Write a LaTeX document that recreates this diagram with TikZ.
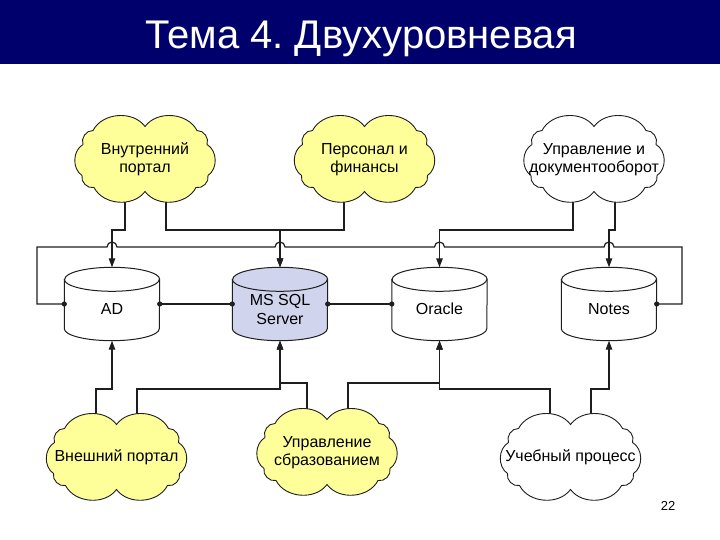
\documentclass[tikz,border=0pt]{standalone}
\usepackage{fontspec}
\setmainfont{Liberation Sans}
\usetikzlibrary{arrows.meta,calc}
\definecolor{titlebg}{RGB}{0,0,108}
\definecolor{cloudyel}{RGB}{255,255,153}
\definecolor{dbfill}{RGB}{208,212,236}
\definecolor{linec}{RGB}{30,30,30}
\pgfdeclarelayer{bg}
\pgfdeclarelayer{shapes}
\pgfsetlayers{bg,shapes,main}
\tikzset{
  cloudbox/.style={rectangle, minimum width=140pt, minimum height=84pt, inner sep=0pt,
    font=\fontsize{16}{18}\selectfont, align=center},
  cloudline/.style={draw=linec, line width=0.9pt},
  lobe/.style={bend left=58},
  dbbox/.style={rectangle, minimum width=95pt, minimum height=73pt, inner sep=0pt},
  dbtext/.style={font=\fontsize{16}{19}\selectfont, align=center, inner sep=0pt, yshift=-5pt},
  dbline/.style={draw=linec, line width=1pt},
  conn/.style={draw=linec, line width=1.2pt},
  arr/.style={conn, -{Triangle[length=9pt,width=6.5pt]}},
  dot/.style={fill=linec}
}
\newcommand\cloudshape[2]{%
  \filldraw[cloudline,fill=#2] ($(#1)+(0,-33)$)
    to[lobe] ($(#1)+(52,-29)$)
    to[lobe] ($(#1)+(62,-15)$)
    to[lobe] ($(#1)+(63,16)$)
    to[lobe] ($(#1)+(51,28)$)
    to[lobe] ($(#1)+(0,32)$)
    to[lobe] ($(#1)+(-51,28)$)
    to[lobe] ($(#1)+(-63,16)$)
    to[lobe] ($(#1)+(-62,-15)$)
    to[lobe] ($(#1)+(-52,-29)$)
    to[lobe] ($(#1)+(0,-33)$) -- cycle;
}
\newcommand\dbcyl[2]{%
  \filldraw[dbline,fill=#2] ($(#1.north west)+(0,12)$) -- ($(#1.south west)+(0,-12)$)
    arc[start angle=180,end angle=360,x radius=47.5pt,y radius=12pt]
    -- ($(#1.north east)+(0,12)$)
    arc[start angle=0,end angle=180,x radius=47.5pt,y radius=12pt] -- cycle;
  \draw[dbline] ($(#1.north west)+(0,12)$) arc[start angle=180,end angle=360,x radius=47.5pt,y radius=12pt];
}
\begin{document}
\frenchspacing
\begin{tikzpicture}[x=1pt,y=-1pt]
\useasboundingbox (0,0) rectangle (720,540);
\fill[titlebg] (0,0) rectangle (720,64);
\node[font=\fontsize{40}{44}\selectfont, text=white, anchor=base, inner sep=0pt] (title) at (361,49) {Тема 4. Двухуровневая};

% clouds
\node[cloudbox] (c1) at (145,159.5) {Внутренний\\портал};
\node[cloudbox] (c2) at (364.5,159.5) {Персонал и\\финансы};
\node[cloudbox] (c3) at (594,159.5) {Управление и\\документооборот};
\node[cloudbox] (c4) at (116.5,457.5) {Внешний портал};
\node[cloudbox] (c5) at (327,452.5) {Управление\\сбразованием};
\node[cloudbox] (c6) at (570.5,457.5) {Учебный процесс};

% databases
\node[dbbox, label={[dbtext]center:AD}] (ad) at (112,304) {};
\node[dbbox, label={[dbtext]center:{MS SQL\\Server}}] (sql) at (280,304) {};
\node[dbbox, label={[dbtext]center:Oracle}] (oracle) at (439.5,304) {};
\node[dbbox, label={[dbtext]center:Notes}] (notes) at (609,304) {};

\begin{pgfonlayer}{shapes}
\cloudshape{c1}{cloudyel}
\cloudshape{c2}{cloudyel}
\cloudshape{c3}{white}
\cloudshape{c4}{cloudyel}
\cloudshape{c5}{cloudyel}
\cloudshape{c6}{white}
\dbcyl{ad}{white}
\dbcyl{sql}{dbfill}
\dbcyl{oracle}{white}
\dbcyl{notes}{white}
\end{pgfonlayer}

\node[font=\fontsize{13}{15}\selectfont, inner sep=0pt] (pg) at (668,506) {22};

\coordinate (ytop) at (0,230);
\coordinate (ybotA) at (0,389);
\coordinate (ybotB) at (0,383);
\coordinate (lp) at (37,247);
\coordinate (rp) at (682,247);

\begin{pgfonlayer}{bg}
% top connectors
\draw[arr] ($(c1.center)+(-20,0)$) |- (ad.north |- ytop) -- (ad.north);
\draw[arr] ($(c1.center)+(21,0)$) |- (sql.north |- ytop) -- (sql.north);
\draw[arr] ($(c2.center)+(-20.5,0)$) |- (sql.north |- ytop) -- (sql.north);
\draw[arr] ($(c3.center)+(-21,0)$) |- (oracle.north |- ytop) -- (oracle.north);
\draw[arr] ($(c3.center)+(21,0)$) |- (notes.north |- ytop) -- (notes.north);
% bottom connectors
\draw[arr] ($(c4.center)+(-20.5,0)$) |- (ad.south |- ybotA) -- (ad.south);
\draw[arr] ($(c4.center)+(20.5,0)$) |- (sql.south |- ybotA) -- (sql.south);
\draw[arr] ($(c5.center)+(-20,0)$) |- (sql.south |- ybotB) -- (sql.south);
\draw[arr] ($(c5.center)+(21,0)$) |- (oracle.south |- ybotB) -- (oracle.south);
\draw[arr] ($(c6.center)+(-20.5,0)$) |- (oracle.south |- ybotA) -- (oracle.south);
\draw[arr] ($(c6.center)+(20.5,0)$) |- (notes.south |- ybotA) -- (notes.south);
% loop line with hops
\draw[conn] (ad.west) -| (lp)
  -- ($(ad.north |- lp)+(-5,0)$) arc[start angle=180,end angle=0,radius=5pt]
  -- ($(sql.north |- lp)+(-5,0)$) arc[start angle=180,end angle=0,radius=5pt]
  -- ($(oracle.north |- lp)+(-5,0)$) arc[start angle=180,end angle=0,radius=5pt]
  -- ($(notes.north |- lp)+(-5,0)$) arc[start angle=180,end angle=0,radius=5pt]
  -- (rp) |- (notes.east);
% middle links
\draw[conn] (ad.east) -- (sql.west);
\draw[conn] (sql.east) -- (oracle.west);
\end{pgfonlayer}

\foreach \p in {ad.west,ad.east,sql.west,sql.east,oracle.west,notes.east}
  \fill[dot] (\p) circle[radius=2.6pt];
\end{tikzpicture}
\end{document}
